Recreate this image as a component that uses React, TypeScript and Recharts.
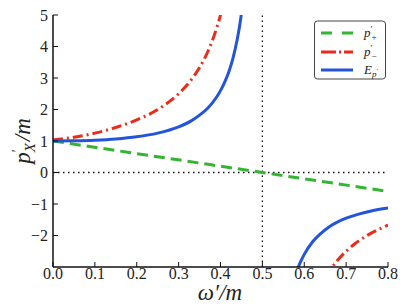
import { LineChart, Line, XAxis, YAxis, ReferenceLine } from 'recharts';

// tick values
const xTicks = [0, 0.1, 0.2, 0.3, 0.4, 0.5, 0.6, 0.7, 0.8];
const yTicks = [-2, -1, 0, 1, 2, 3, 4, 5];

// p'_+ (straight line)
const pPlusX = [0, 0.5, 0.8];
const pPlusY = [1, 0, -0.6];

// p'_- , branch below the pole
const pMinusX1 = [0, 0.05, 0.1, 0.15, 0.2, 0.25, 0.3, 0.33, 0.35, 0.37, 0.39, 0.4, 0.41, 0.42];
const pMinusY1 = [1.03, 1.12, 1.25, 1.43, 1.67, 2, 2.5, 2.94, 3.33, 3.85, 4.55, 5, 5.56, 6.25];
// p'_- , branch above the pole
const pMinusX2 = [0.65, 0.66, 0.68, 0.7, 0.72, 0.75, 0.78, 0.8];
const pMinusY2 = [-3.33, -3.13, -2.78, -2.5, -2.27, -2, -1.79, -1.67];

// E_p' , two branches
const eX1 = [0, 0.05, 0.1, 0.15, 0.2, 0.25, 0.3, 0.33, 0.35, 0.37, 0.39, 0.4, 0.41, 0.42, 0.43, 0.44, 0.445, 0.45, 0.455];
const eY1 = [1, 1.006, 1.025, 1.064, 1.133, 1.25, 1.45, 1.64, 1.82, 2.05, 2.38, 2.6, 2.87, 3.2, 3.64, 4.23, 4.6, 5.05, 5.6];
const eX2 = [0.58, 0.585, 0.59, 0.6, 0.62, 0.64, 0.66, 0.68, 0.7, 0.73, 0.76, 0.8];
const eY2 = [-3.2, -3.03, -2.87, -2.6, -2.2, -1.93, -1.72, -1.57, -1.45, -1.32, -1.22, -1.13];

const GREEN = '#33b533';
const RED = '#ee2a1b';
const BLUE = '#2254dc';

const toPoints = (xs: number[], ys: number[]) => xs.map((x, i) => ({ x, y: ys[i] }));

const fmtY = (v: number) => (v < 0 ? '\u2212' + Math.abs(v) : String(v));

// fonts are inherited from the page default (serif)
const tickStyle = { fill: '#222', fontSize: 16 };

export default function App() {
  const lineProps = {
    type: 'monotone' as const,
    dataKey: 'y',
    dot: false,
    strokeWidth: 3,
    isAnimationActive: false,
    legendType: 'none' as const,
  };

  return (
    <div style={{ position: 'fixed', left: 0, top: 0, width: 409, height: 307, background: '#fff' }}>
      <LineChart width={409} height={307} margin={{ top: 15, right: 21, bottom: 0, left: 0 }}>
        <XAxis
          type="number"
          dataKey="x"
          domain={[0, 0.8]}
          ticks={xTicks}
          tickFormatter={(v: number) => v.toFixed(1)}
          height={40}
          tickSize={-5}
          tickMargin={6}
          tick={tickStyle}
          axisLine={{ stroke: '#111', strokeWidth: 1.5 }}
          tickLine={{ stroke: '#111' }}
          allowDataOverflow
        />
        <XAxis
          xAxisId="top"
          orientation="top"
          type="number"
          domain={[0, 0.8]}
          ticks={xTicks}
          tickFormatter={() => ''}
          height={0}
          tickSize={-5}
          axisLine={{ stroke: '#111', strokeWidth: 1.5 }}
          tickLine={{ stroke: '#111' }}
        />
        <YAxis
          type="number"
          domain={[-3, 5]}
          ticks={yTicks}
          tickFormatter={fmtY}
          width={53}
          tickSize={-5}
          tickMargin={10}
          tick={tickStyle}
          axisLine={{ stroke: '#111', strokeWidth: 1.5 }}
          tickLine={{ stroke: '#111' }}
          allowDataOverflow
        />
        <YAxis
          yAxisId="right"
          orientation="right"
          type="number"
          domain={[-3, 5]}
          ticks={yTicks}
          tickFormatter={() => ''}
          width={0}
          tickSize={-5}
          axisLine={{ stroke: '#111', strokeWidth: 1.5 }}
          tickLine={{ stroke: '#111' }}
        />
        <ReferenceLine x={0.5} stroke="#111" strokeWidth={1.3} strokeDasharray="1.5 3.5" />
        <ReferenceLine y={0} stroke="#111" strokeWidth={1.3} strokeDasharray="1.5 3.5" />
        <Line {...lineProps} data={toPoints(pPlusX, pPlusY)} stroke={GREEN} strokeDasharray="11 6" />
        <Line {...lineProps} data={toPoints(pMinusX1, pMinusY1)} stroke={RED} strokeDasharray="10 4 2 4" />
        <Line {...lineProps} data={toPoints(pMinusX2, pMinusY2)} stroke={RED} strokeDasharray="10 4 2 4" />
        <Line {...lineProps} data={toPoints(eX1, eY1)} stroke={BLUE} />
        <Line {...lineProps} data={toPoints(eX2, eY2)} stroke={BLUE} />
      </LineChart>

      {/* axis labels and legend */}
      <svg width={409} height={307} style={{ position: 'absolute', left: 0, top: 0, pointerEvents: 'none' }}>
        <text transform="translate(30,141) rotate(-90)" textAnchor="middle" fontSize={23} fontStyle="italic" fill="#222">
          p<tspan dy={-8} fontSize={14} fontStyle="normal">′</tspan>
          <tspan dy={13} dx={-3} fontSize={15}>X</tspan>
          <tspan dy={-5} dx={2}>/m</tspan>
        </text>
        <text x={220} y={300} textAnchor="middle" fontSize={23} fontStyle="italic" fill="#222">
          ω′/m
        </text>

        {/* legend */}
        <rect x={314.5} y={21} width={71} height={58} rx={3} fill="#fff" stroke="#444" strokeWidth={1} />
        <line x1={321} x2={353} y1={33} y2={33} stroke={GREEN} strokeWidth={3} strokeDasharray="11 10" />
        <line x1={321} x2={353} y1={52} y2={52} stroke={RED} strokeWidth={3} strokeDasharray="15 3 2 3" />
        <line x1={321} x2={353} y1={70} y2={70} stroke={BLUE} strokeWidth={3} />
        <text x={364} y={37} fontSize={13} fontStyle="italic" fill="#222">
          p<tspan dy={-5} fontSize={9} fontStyle="normal">′</tspan>
          <tspan dy={8} dx={-1} fontSize={9} fontStyle="normal">+</tspan>
        </text>
        <text x={364} y={56} fontSize={13} fontStyle="italic" fill="#222">
          p<tspan dy={-5} fontSize={9} fontStyle="normal">′</tspan>
          <tspan dy={8} dx={-1} fontSize={9} fontStyle="normal">−</tspan>
        </text>
        <text x={364} y={74} fontSize={13} fontStyle="italic" fill="#222">
          E<tspan dy={3} fontSize={9}>p</tspan>
          <tspan dy={-4} fontSize={7} fontStyle="normal">′</tspan>
        </text>
      </svg>
    </div>
  );
}
